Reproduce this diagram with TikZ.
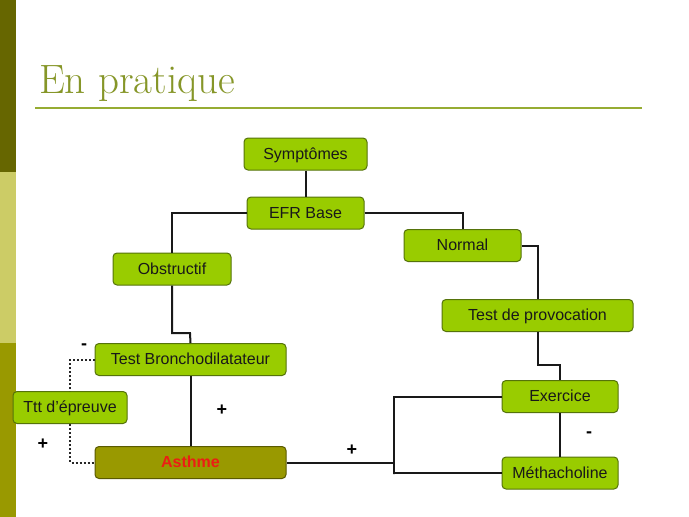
\documentclass[tikz,border=0pt]{standalone}
\usepackage{fontspec}
\setsansfont{Liberation Sans}
\definecolor{bardark}{RGB}{102,102,0}
\definecolor{barlight}{RGB}{204,204,102}
\definecolor{barmid}{RGB}{153,153,0}
\definecolor{titlecol}{RGB}{134,150,40}
\definecolor{rulecol}{RGB}{150,172,50}
\definecolor{boxfill}{RGB}{153,204,0}
\definecolor{boxedge}{RGB}{85,115,10}
\definecolor{asthfill}{RGB}{153,153,0}
\definecolor{asthedge}{RGB}{90,90,0}
\definecolor{asthtext}{RGB}{235,30,20}
\tikzset{
  box/.style={draw=boxedge, fill=boxfill, line width=1pt, rounded corners=4pt,
    minimum height=32pt, inner sep=0pt, text depth=1pt,
    font=\sffamily\fontsize{16}{18}\selectfont, text=black!90},
  asth/.style={box, draw=asthedge, fill=asthfill, text=asthtext, font=\sffamily\bfseries\fontsize{16}{18}\selectfont},
  conn/.style={line width=2pt, black!90},
  dconn/.style={line width=2pt, black!85, dotted},
  sign/.style={font=\sffamily\bfseries\fontsize{18}{20}\selectfont, inner sep=0pt}
}
\begin{document}
\begin{tikzpicture}[x=1pt, y=-1pt]
\useasboundingbox (0,0) rectangle (689,517);
\fill[white] (0,0) rectangle (689,517);
\fill[bardark] (0,0) rectangle (16,172);
\fill[barlight] (0,172) rectangle (16,343);
\fill[barmid] (0,343) rectangle (16,517);
\node[anchor=base west, inner sep=0pt, text=titlecol, font=\rmfamily\fontsize{41}{44}\selectfont] (title) at (39,93) {En pratique};
\draw[rulecol, line width=1.8pt] (35,108) -- (642,108);

\node[box, minimum width=123pt] (sym) at (305.5,154) {Symptômes};
\node[box, minimum width=117pt] (efr) at (305.5,213) {EFR Base};
\node[box, minimum width=117pt] (norm) at (462.5,245.5) {Normal};
\node[box, minimum width=118pt] (obs) at (172,269) {Obstructif};
\node[box, minimum width=191pt] (prov) at (537.5,315.5) {Test de provocation};
\node[box, minimum width=191pt] (tb) at (190.5,359.5) {Test Bronchodilatateur};
\node[box, minimum width=114pt] (ttt) at (70,407.5) {Ttt d'épreuve};
\node[box, minimum width=116pt] (exe) at (560,396.5) {Exercice};
\node[asth, minimum width=191pt] (ast) at (190.5,462.5) {Asthme};
\node[box, minimum width=116pt] (met) at (560,473) {Méthacholine};

\coordinate (j) at (394,462.5);
\draw[conn] (sym) -- (efr);
\draw[conn] (efr.west) -| (obs.north);
\draw[conn] (efr.east) -| (norm.north);
\draw[conn] (norm.east) -| (538,299);
\draw[conn] (obs.south) |- (190,333) -- (tb.north);
\draw[conn] (tb) -- (ast);
\draw[conn] (prov.south) |- (560,365) -- (exe.north);
\draw[conn] (exe) -- (met);
\draw[conn] (ast.east) -- (j);
\draw[conn] (exe.west) -| (394,474) |- (met.west);
\draw[dconn] (tb.west) -| (ttt.north);
\draw[dconn] (ttt.south) |- (ast.west);

\node[sign] (p1) at (222,410) {+};
\node[sign] (p2) at (352,450) {+};
\node[sign] (p3) at (43,444) {+};
\node[sign] (m1) at (84,347) {-};
\node[sign] (m2) at (589,435) {-};
\end{tikzpicture}
\end{document}
